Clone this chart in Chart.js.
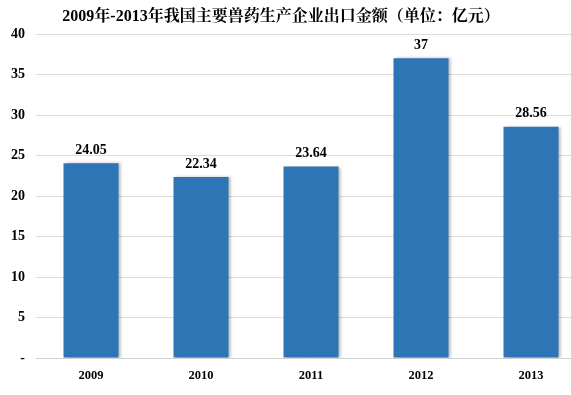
<!DOCTYPE html>
<html>
<head>
<meta charset="utf-8">
<script src="https://cdn.jsdelivr.net/npm/chart.js@4/dist/chart.umd.min.js"></script>
<style>
  html, body { margin: 0; padding: 0; background: #fff; overflow: hidden; }
  #wrap { width: 590px; height: 395px; }
</style>
</head>
<body>
<div id="wrap"><canvas id="c" width="590" height="395"></canvas></div>
<script>
const years = ['2009', '2010', '2011', '2012', '2013'];
const exportValues = [24.05, 22.34, 23.64, 37, 28.56];
const valueLabels = ['24.05', '22.34', '23.64', '37', '28.56'];
const yTicks = [0, 5, 10, 15, 20, 25, 30, 35, 40];
const titleText = '2009年-2013年我国主要兽药生产企业出口金额（单位：亿元）';

const serif = '"Liberation Serif", "Times New Roman", "Noto Sans CJK SC", serif';
const titleFont = '"Liberation Serif", "Noto Serif CJK SC", "Noto Sans CJK SC", serif';

// title drawn by hand so it sits where the original has it
const titlePlugin = {
    id: 'titlePlugin',
    afterDraw(chart) {
        const { ctx } = chart;
        ctx.save();
        ctx.fillStyle = '#000';
        ctx.font = 'bold 16px ' + titleFont;
        ctx.textAlign = 'center';
        ctx.textBaseline = 'middle';
        ctx.fillText(titleText, 281, 17);
        ctx.restore();
    }
};

// soft shadow to the right of the bars
const barShadow = {
    id: 'barShadow',
    beforeDatasetDraw(chart) {
        const { ctx } = chart;
        ctx.save();
        ctx.shadowColor = 'rgba(0,0,0,0.28)';
        ctx.shadowBlur = 3;
        ctx.shadowOffsetX = 2;
        ctx.shadowOffsetY = 0;
    },
    afterDatasetDraw(chart) {
        chart.ctx.restore();
    }
};

const valueLabelsPlugin = {
    id: 'valueLabels',
    afterDatasetsDraw(chart) {
        const { ctx, scales: { x, y } } = chart;
        ctx.save();
        ctx.fillStyle = '#000';
        ctx.font = 'bold 14px ' + serif;
        ctx.textAlign = 'center';
        ctx.textBaseline = 'bottom';
        exportValues.forEach((v, i) => {
            ctx.fillText(valueLabels[i], x.getPixelForValue(i), y.getPixelForValue(v) - 6);
        });
        ctx.restore();
    }
};

new Chart(document.getElementById('c'), {
    type: 'bar',
    data: {
        labels: years,
        datasets: [{
            data: exportValues,
            backgroundColor: '#2E75B6',
            borderWidth: 0,
            categoryPercentage: 1,
            barPercentage: 0.5
        }]
    },
    options: {
        responsive: false,
        animation: false,
        layout: { padding: { top: 34, right: 4, left: 0, bottom: 0 } },
        plugins: {
            legend: { display: false },
            tooltip: { enabled: false }
        },
        scales: {
            x: {
                grid: { display: false, drawTicks: false },
                border: { color: '#d0d0d0', width: 1 },
                ticks: {
                    color: '#000',
                    font: { family: serif, size: 12.5, weight: 'bold' },
                    padding: 10
                },
                afterFit(scale) { scale.height = 37; }
            },
            y: {
                min: 0,
                max: 40,
                afterBuildTicks(scale) { scale.ticks = yTicks.map(v => ({ value: v })); },
                grid: { color: '#dcdcdc', lineWidth: 1, drawTicks: false },
                border: { display: false },
                ticks: {
                    color: '#000',
                    font: { family: serif, size: 14, weight: 'bold' },
                    padding: 11,
                    callback: v => v === 0 ? '-' : v
                },
                afterFit(scale) { scale.width = 36; }
            }
        }
    },
    plugins: [titlePlugin, barShadow, valueLabelsPlugin]
});
</script>
</body>
</html>
